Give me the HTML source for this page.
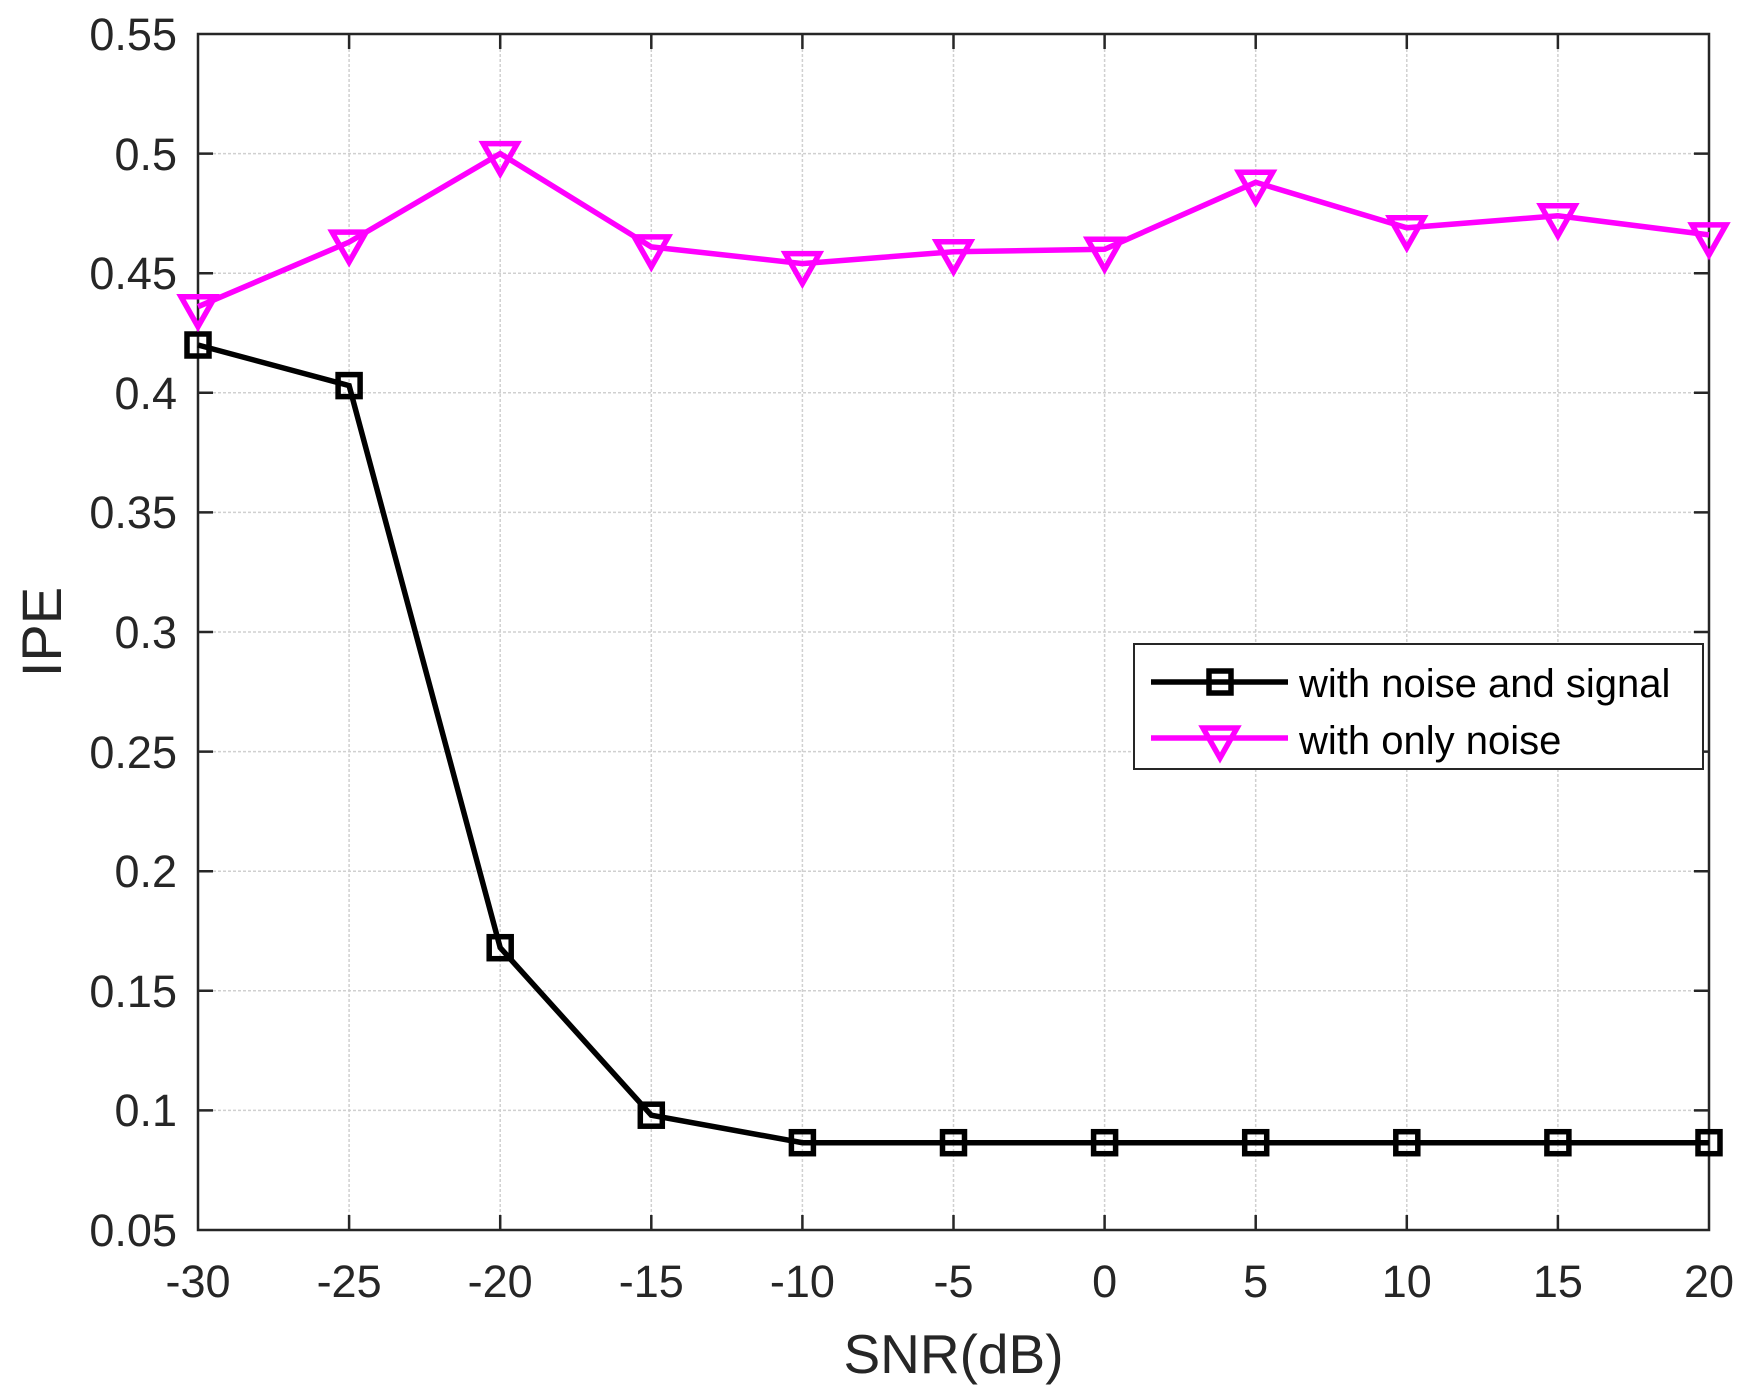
<!DOCTYPE html>
<html><head><meta charset="utf-8"><style>body{margin:0;background:#fff}svg{display:block}</style></head><body>
<svg width="1750" height="1395" viewBox="0 0 1750 1395" xmlns="http://www.w3.org/2000/svg" font-family="Liberation Sans, sans-serif">
<rect width="1750" height="1395" fill="#fff"/>
<g stroke="#d0d0d0" stroke-width="1.5" stroke-dasharray="3,2">
<line x1="349.1" y1="34" x2="349.1" y2="1230"/><line x1="500.2" y1="34" x2="500.2" y2="1230"/><line x1="651.3" y1="34" x2="651.3" y2="1230"/><line x1="802.4" y1="34" x2="802.4" y2="1230"/><line x1="953.5" y1="34" x2="953.5" y2="1230"/><line x1="1104.6" y1="34" x2="1104.6" y2="1230"/><line x1="1255.7" y1="34" x2="1255.7" y2="1230"/><line x1="1406.8" y1="34" x2="1406.8" y2="1230"/><line x1="1557.9" y1="34" x2="1557.9" y2="1230"/>
<line x1="198" y1="153.6" x2="1709" y2="153.6"/><line x1="198" y1="273.2" x2="1709" y2="273.2"/><line x1="198" y1="392.8" x2="1709" y2="392.8"/><line x1="198" y1="512.4" x2="1709" y2="512.4"/><line x1="198" y1="632" x2="1709" y2="632"/><line x1="198" y1="751.6" x2="1709" y2="751.6"/><line x1="198" y1="871.2" x2="1709" y2="871.2"/><line x1="198" y1="990.8" x2="1709" y2="990.8"/><line x1="198" y1="1110.4" x2="1709" y2="1110.4"/>
</g>
<g stroke="#262626" stroke-width="2.5">
<rect x="198" y="34" width="1511" height="1196" fill="none"/>
<path d="M349.1 1230v-15M500.2 1230v-15M651.3 1230v-15M802.4 1230v-15M953.5 1230v-15M1104.6 1230v-15M1255.7 1230v-15M1406.8 1230v-15M1557.9 1230v-15M349.1 34v15M500.2 34v15M651.3 34v15M802.4 34v15M953.5 34v15M1104.6 34v15M1255.7 34v15M1406.8 34v15M1557.9 34v15"/>
<path d="M198 153.6h15M198 273.2h15M198 392.8h15M198 512.4h15M198 632h15M198 751.6h15M198 871.2h15M198 990.8h15M198 1110.4h15M1709 153.6h-15M1709 273.2h-15M1709 392.8h-15M1709 512.4h-15M1709 632h-15M1709 751.6h-15M1709 871.2h-15M1709 990.8h-15M1709 1110.4h-15"/>
</g>
<g font-size="45" fill="#262626" text-anchor="end">
<text x="177" y="50">0.55</text><text x="177" y="170">0.5</text><text x="177" y="289">0.45</text><text x="177" y="409">0.4</text><text x="177" y="528">0.35</text><text x="177" y="648">0.3</text><text x="177" y="768">0.25</text><text x="177" y="887">0.2</text><text x="177" y="1007">0.15</text><text x="177" y="1126">0.1</text><text x="177" y="1246">0.05</text>
</g>
<g font-size="45" fill="#262626" text-anchor="middle">
<text x="198" y="1297">-30</text><text x="349.1" y="1297">-25</text><text x="500.2" y="1297">-20</text><text x="651.3" y="1297">-15</text><text x="802.4" y="1297">-10</text><text x="953.5" y="1297">-5</text><text x="1104.6" y="1297">0</text><text x="1255.7" y="1297">5</text><text x="1406.8" y="1297">10</text><text x="1557.9" y="1297">15</text><text x="1709" y="1297">20</text>
<text x="953.5" y="1373" font-size="55">SNR(dB)</text>
<text transform="translate(61,632) rotate(-90)" font-size="56">IPE</text>
</g>
<polyline fill="none" stroke="#000" stroke-width="5.5" points="198,345 349.1,385.6 500.2,947.7 651.3,1115.2 802.4,1142.7 953.5,1142.7 1104.6,1142.7 1255.7,1142.7 1406.8,1142.7 1557.9,1142.7 1709,1142.7"/>
<g fill="none" stroke="#000" stroke-width="5.5">
<rect x="187" y="334" width="22" height="22"/><rect x="338.1" y="374.6" width="22" height="22"/><rect x="489.2" y="936.7" width="22" height="22"/><rect x="640.3" y="1104.2" width="22" height="22"/><rect x="791.4" y="1131.7" width="22" height="22"/><rect x="942.5" y="1131.7" width="22" height="22"/><rect x="1093.6" y="1131.7" width="22" height="22"/><rect x="1244.7" y="1131.7" width="22" height="22"/><rect x="1395.8" y="1131.7" width="22" height="22"/><rect x="1546.9" y="1131.7" width="22" height="22"/><rect x="1698" y="1131.7" width="22" height="22"/>
</g>
<polyline fill="none" stroke="#ff00ff" stroke-width="5.5" points="198,306.7 349.1,242.1 500.2,153.6 651.3,246.9 802.4,263.6 953.5,251.7 1104.6,249.3 1255.7,182.3 1406.8,227.8 1557.9,215.8 1709,234.9"/>
<g fill="none" stroke="#ff00ff" stroke-width="5.5" stroke-linejoin="miter">
<path d="M181 296.7h34l-17 30z"/><path d="M332.1 232.1h34l-17 30z"/><path d="M483.2 143.6h34l-17 30z"/><path d="M634.3 236.9h34l-17 30z"/><path d="M785.4 253.6h34l-17 30z"/><path d="M936.5 241.7h34l-17 30z"/><path d="M1087.6 239.3h34l-17 30z"/><path d="M1238.7 172.3h34l-17 30z"/><path d="M1389.8 217.8h34l-17 30z"/><path d="M1540.9 205.8h34l-17 30z"/><path d="M1692 224.9h34l-17 30z"/>
</g>
<rect x="1134" y="644" width="569" height="125" fill="#fff" stroke="#262626" stroke-width="2"/>
<line x1="1151" y1="682" x2="1288" y2="682" stroke="#000" stroke-width="5.5"/>
<rect x="1209" y="671" width="22" height="22" fill="none" stroke="#000" stroke-width="5.5"/>
<line x1="1151" y1="738" x2="1288" y2="738" stroke="#ff00ff" stroke-width="5.5"/>
<path d="M1203 728h34l-17 30z" fill="none" stroke="#ff00ff" stroke-width="5.5"/>
<g font-size="40" fill="#000"><text x="1299" y="697">with noise and signal</text><text x="1299" y="754">with only noise</text></g>
</svg>
</body></html>
